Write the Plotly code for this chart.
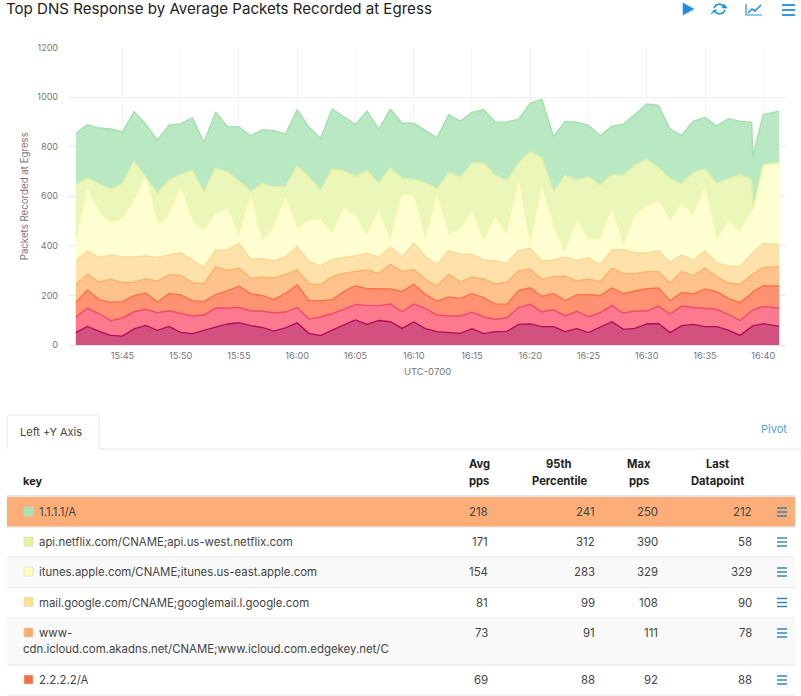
import pandas as pd
import plotly.graph_objects as go

times = [t.strftime("2018-01-01 %H:%M:%S") for t in pd.date_range("2018-01-01 15:41", "2018-01-01 16:39", freq="1min")]
times += ["2018-01-01 16:39:06", "2018-01-01 16:40:00", "2018-01-01 16:41:22"]

# Cumulative upper edge of each stacked band
top_green = [853,888,875,871,859,941,891,826,887,892,917,817,940,882,880,844,868,864,851,949,879,833,952,921,890,943,871,951,895,895,864,836,929,903,938,949,900,899,911,976,991,840,902,899,886,844,883,891,931,972,966,871,845,903,918,883,913,903,898,760,929,943]
top_lime = [645,673,649,629,650,741,676,610,665,687,703,618,714,698,661,620,650,638,638,723,679,624,710,703,680,703,652,714,672,668,655,629,694,677,733,733,685,663,733,780,753,618,684,665,680,644,687,684,726,749,715,669,650,695,710,653,669,687,665,547,728,734]
top_yellow = [403,625,531,491,507,578,679,483,520,634,497,461,527,548,434,598,410,473,591,466,501,505,446,551,517,440,539,413,605,598,417,598,444,464,535,417,509,440,655,392,636,470,370,497,425,423,547,392,524,558,578,497,565,522,630,421,499,458,538,547,723,730]
top_mail = [341,379,353,363,355,355,359,353,363,372,343,314,382,383,410,347,349,339,356,396,337,319,345,351,360,370,353,395,356,410,356,325,380,366,365,343,339,329,382,390,339,343,355,341,352,323,383,384,371,372,380,333,363,341,379,331,319,316,370,372,410,405]
top_cdn = [243,285,254,265,251,253,267,257,284,282,251,246,314,301,310,269,273,270,285,302,247,243,276,289,297,302,289,325,296,305,265,238,285,255,273,267,246,253,300,306,263,277,278,258,266,255,309,289,288,296,296,250,296,280,309,276,249,245,282,286,313,315]
top_two = [172,222,183,172,175,199,210,173,207,202,179,175,203,218,237,207,199,183,208,242,179,179,183,215,239,227,227,226,215,245,204,177,194,188,207,191,165,165,219,231,196,208,179,202,204,199,230,207,218,227,230,179,212,206,226,215,188,171,208,215,239,237]
top_pink = [113,148,126,98,109,134,144,130,138,129,117,121,149,148,152,137,137,129,133,151,105,113,126,144,164,160,159,165,134,165,148,121,117,117,132,114,103,110,151,164,133,142,117,136,114,130,159,128,137,137,157,125,157,151,148,144,124,98,137,141,155,148]
top_crimson = [50,75,55,39,36,65,79,59,75,51,46,60,74,85,90,78,71,56,69,89,47,38,60,81,101,83,99,94,67,93,66,54,51,47,66,46,54,55,83,85,74,74,54,66,50,71,94,63,67,85,87,50,78,83,74,74,60,39,74,77,86,75]

band_tops = [top_crimson, top_pink, top_two, top_cdn, top_mail, top_yellow, top_lime, top_green]
band_fills = ["#d3517e", "#fb7a8e", "#fe9272", "#fec28c", "#fee2aa", "#ffffd2", "#ebf6b9", "#b9e9c3"]
band_lines = ["#b4085a", "#f5496a", "#ff7043", "#fdb06a", "#fed898", "#ffffc0", "#e3f2a6", "#a2e0ac"]

tick_times = ["2018-01-01 15:45", "2018-01-01 15:50", "2018-01-01 15:55", "2018-01-01 16:00", "2018-01-01 16:05", "2018-01-01 16:10",
              "2018-01-01 16:15", "2018-01-01 16:20", "2018-01-01 16:25", "2018-01-01 16:30", "2018-01-01 16:35", "2018-01-01 16:40"]
tick_labels = ["15:45", "15:50", "15:55", "16:00", "16:05", "16:10", "16:15", "16:20", "16:25", "16:30", "16:35", "16:40"]

row_keys = ["1.1.1.1/A", "api.netflix.com/CNAME;api.us-west.netflix.com", "itunes.apple.com/CNAME;itunes.us-east.apple.com",
            "mail.google.com/CNAME;googlemail.l.google.com", "www-", "2.2.2.2/A"]
row_wrap = "cdn.icloud.com.akadns.net/CNAME;www.icloud.com.edgekey.net/C"
avg_pps = [218, 171, 154, 81, 73, 69]
pct_95 = [241, 312, 283, 99, 91, 88]
max_pps = [250, 390, 329, 108, 111, 92]
last_dp = [212, 58, 329, 90, 78, 88]
swatches = ["#a6e3b0", "#e6f598", "#ffffbf", "#fee08b", "#fdae61", "#f46d43"]

W, H = 801, 696
FONT = "Inter, Open Sans, sans-serif"
BLUE = "#1e8fe6"
xp = lambda p: p / W
yp = lambda p: 1 - p / H

fig = go.Figure()
for i, (tops, fc, lc) in enumerate(zip(band_tops, band_fills, band_lines)):
    fig.add_trace(go.Scatter(x=times, y=tops, mode="lines", line=dict(color=lc, width=1.4),
                             fill="tozeroy" if i == 0 else "tonexty", fillcolor=fc, showlegend=False, hoverinfo="skip"))

shapes, ann = [], []

def rect(x0, y0, x1, y1, fill, line=None, lw=0):
    shapes.append(dict(type="rect", xref="paper", yref="paper", x0=xp(x0), x1=xp(x1), y0=yp(y0), y1=yp(y1),
                       fillcolor=fill, line=dict(color=line or fill, width=lw), layer="below"))

def hline(x0, x1, y, color="#e8e8e8", w=1.5):
    shapes.append(dict(type="line", xref="paper", yref="paper", x0=xp(x0), x1=xp(x1), y0=yp(y), y1=yp(y), line=dict(color=color, width=w)))

def text(x, y, s, size=11, color="#333", anchor="left", bold=False, angle=0):
    nudge = {"left": -2, "right": 2, "center": 0}[anchor]
    ann.append(dict(xref="paper", yref="paper", x=xp(x + nudge), y=yp(y), text=f"<b>{s}</b>" if bold else s, showarrow=False, xanchor=anchor,
                    yanchor="middle", textangle=angle, font=dict(family=FONT, size=size, color=color)))

def path(d, fill="rgba(0,0,0,0)", line=BLUE, w=1.6):
    parts = d.split()
    out = []
    for tok in parts:
        if tok[0] in "MLZ":
            out.append(tok)
        else:
            a, b = tok.split(",")
            out.append(f"{xp(float(a)):.5f},{yp(float(b)):.5f}")
    shapes.append(dict(type="path", xref="paper", yref="paper", path=" ".join(out).replace("M ", "M").replace("L ", "L"),
                       fillcolor=fill, line=dict(color=line, width=w)))

# Header icons
path("M 683,3 L 694,9 L 683,15 Z", fill=BLUE, line=BLUE, w=0.5)
path("M 714,8 L 716,5 L 720,4 L 724,6 L 725,8 M 725,10 L 723,13 L 719,14 L 715,12 L 714,10")
path("M 724,4 L 727,8 L 722,8 Z", fill=BLUE, w=0.5)
path("M 711,14 L 714,10 L 717,10 Z", fill=BLUE, w=0.5)
path("M 746,4 L 746,15 L 762,15", w=1.2)
path("M 748,13 L 752,9 L 755,11 L 761,5", w=1.6)
for y in (5, 10, 15):
    hline(782, 795, y, BLUE, 1.8)

text(20, 432, "Left +Y Axis", size=11, color="#444")
text(787, 429, "Pivot", size=11, color="#4da3e8", anchor="right")

# Tab and table frame
path("M 7,449 L 7,417 L 9,415 L 97,415 L 99,417 L 99,449", line="#e6e6e6", w=1)
hline(99, 801, 449, "#e6e6e6", 1.2)
text(23, 481, "key", size=11, color="#222", bold=True)
headers = [(479, "Avg", "pps"), (559, "95th", "Percentile"), (639, "Max", "pps"), (717, "Last", "Datapoint")]
for cx, a, b in headers:
    text(cx, 464, a, size=11.2, color="#222", anchor="center", bold=True)
    text(cx, 481, b, size=11.2, color="#222", anchor="center", bold=True)

row_edges = [497, 527, 557, 587.5, 618, 665, 695]
row_bg = ["#fdae78", "#ffffff", "#f9f9f9", "#ffffff", "#f9f9f9", "#ffffff"]
hline(7, 795, 496, "#e0e0e0", 1.5)
for i, key in enumerate(row_keys):
    top, bot = row_edges[i], row_edges[i + 1]
    rect(7, top, 795, bot, row_bg[i])
    hline(7, 795, bot, "#e8e8e8", 1.2)
    cy = top + 15
    rect(24, cy - 5, 33, cy + 4, swatches[i], "#d5d5d5", 0.6)
    text(39, cy, key, size=11.4, color="#444")
    if i == 4:
        text(23, cy + 16, row_wrap, size=11.4, color="#444")
    for rx, vals in ((488, avg_pps), (595, pct_95), (658, max_pps), (752, last_dp)):
        text(rx, cy, str(vals[i]), size=11.4, color="#444", anchor="right")
    for dy in (-4, 0, 4):
        hline(777, 787, cy + dy, "#2a80b9", 1.4)

fig.update_layout(
    width=W, height=H, autosize=False, margin=dict(l=0, r=0, t=0, b=0, pad=0, autoexpand=False),
    paper_bgcolor="white", plot_bgcolor="white",
    title=dict(text="Top DNS Response by Average Packets Recorded at Egress", x=xp(6), xanchor="left", xref="container",
               y=yp(8.5), yanchor="middle", yref="container", font=dict(family=FONT, size=15.1, color="#222")),
    font=dict(family=FONT, color="#777", size=10), shapes=shapes, annotations=ann,
    xaxis=dict(domain=[xp(69), xp(786)], type="date", range=["2018-01-01 15:40:25", "2018-01-01 16:41:57"],
               tickvals=tick_times, ticktext=tick_labels, showgrid=True, gridcolor="#f5f5f5", gridwidth=1,
               zeroline=False, showline=True, linecolor="#e8e8e8", ticks="", tickfont=dict(size=9.2, color="#777"),
               ticklabelstandoff=2, title=dict(text="UTC-0700", font=dict(size=9.5, color="#777"), standoff=8)),
    yaxis=dict(domain=[yp(345), yp(47.5)], range=[0, 1200], tickvals=[0, 200, 400, 600, 800, 1000, 1200],
               showgrid=True, gridcolor="#ececec", gridwidth=1.2, zeroline=False, ticks="", tickfont=dict(size=9, color="#777"),
               ticklabelstandoff=10, title=dict(text="Packets Recorded at Egress", font=dict(size=9.7, color="#777"), standoff=6)),
)
fig.write_html("out.html", config=dict(displayModeBar=False),
               post_script="document.body.style.margin='0';document.body.style.overflow='hidden';")
